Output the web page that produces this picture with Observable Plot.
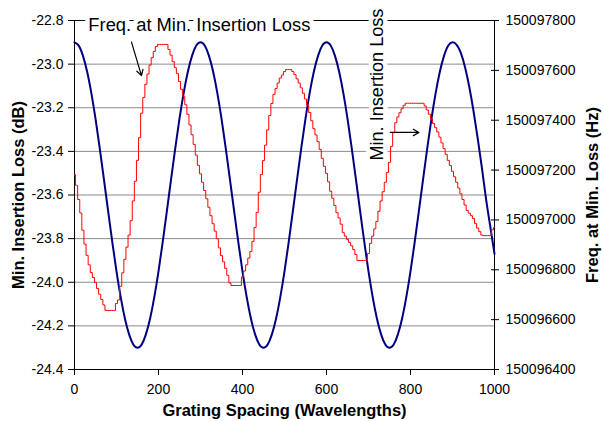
<!DOCTYPE html>
<html>
<head>
<meta charset="utf-8">
<script src="https://cdn.jsdelivr.net/npm/d3@7"></script>
<script src="https://cdn.jsdelivr.net/npm/@observablehq/plot@0.6"></script>
<style>
  html, body { margin: 0; padding: 0; background: white; }
  #wrap { position: relative; width: 603px; height: 421px; }
  #wrap > svg { position: absolute; left: 0; top: 0; }
</style>
</head>
<body>
<div id="wrap"></div>
<script>
// ---- data ----
const xTicks = [0, 200, 400, 600, 800, 1000];
const dbTicks = [-24.4, -24.2, -24.0, -23.8, -23.6, -23.4, -23.2, -23.0, -22.8];
const hzTicks = [150096400, 150096600, 150096800, 150097000, 150097200, 150097400, 150097600, 150097800];

// Min. insertion loss (dB), grating spacing 0..1000 every 10
const lossSpacing = d3.range(0, 1001, 10);
const lossDb = [
  -22.900, -22.915, -22.961, -23.034, -23.132, -23.250, -23.384, -23.527, -23.673, -23.816,
  -23.950, -24.068, -24.166, -24.239, -24.285, -24.300, -24.285, -24.239, -24.166, -24.068,
  -23.950, -23.816, -23.673, -23.527, -23.384, -23.250, -23.132, -23.034, -22.961, -22.915,
  -22.900, -22.915, -22.961, -23.034, -23.132, -23.250, -23.384, -23.527, -23.673, -23.816,
  -23.950, -24.068, -24.166, -24.239, -24.285, -24.300, -24.285, -24.239, -24.166, -24.068,
  -23.950, -23.816, -23.673, -23.527, -23.384, -23.250, -23.132, -23.034, -22.961, -22.915,
  -22.900, -22.915, -22.961, -23.034, -23.132, -23.250, -23.384, -23.527, -23.673, -23.816,
  -23.950, -24.068, -24.166, -24.239, -24.285, -24.300, -24.285, -24.239, -24.166, -24.068,
  -23.950, -23.816, -23.673, -23.527, -23.384, -23.250, -23.132, -23.034, -22.961, -22.915,
  -22.900, -22.912, -22.950, -23.015, -23.105, -23.215, -23.340, -23.475, -23.620, -23.745,
  -23.870
];

// Frequency at min. loss (Hz), grating spacing 0..1000 every 5
const freqSpacing = d3.range(0, 1001, 5);
const freqHz = [
  150097182, 150097139, 150097082, 150097028, 150096959, 150096903, 150096858, 150096820, 150096789, 150096769,
  150096749, 150096725, 150096702, 150096681, 150096659,
  150096637, 150096637, 150096637, 150096637, 150096637,
  150096665, 150096679, 150096734, 150096788, 150096842, 150096891, 150096939, 150096997, 150097076, 150097155,
  150097239, 150097330, 150097428, 150097491, 150097544, 150097585, 150097621, 150097651, 150097676, 150097696,
  150097704, 150097704, 150097704, 150097704, 150097704,
  150097684, 150097661, 150097635, 150097611, 150097588, 150097555, 150097524, 150097496, 150097462, 150097424,
  150097381, 150097342, 150097303, 150097260, 150097219, 150097185, 150097151, 150097118, 150097085, 150097051,
  150097017, 150096985, 150096955, 150096925, 150096888, 150096857, 150096832, 150096806, 150096778, 150096747,
  150096737, 150096737, 150096737, 150096737, 150096737,
  150096772, 150096795, 150096820, 150096847, 150096873, 150096914, 150096970, 150097030, 150097111, 150097182,
  150097238, 150097300, 150097361, 150097419, 150097467, 150097504, 150097527, 150097549, 150097569, 150097581,
  150097595,
  150097603, 150097603, 150097603,
  150097595, 150097583, 150097566, 150097549, 150097530, 150097508, 150097485, 150097461, 150097431, 150097398,
  150097366, 150097341, 150097314, 150097283, 150097247, 150097215, 150097187, 150097153, 150097115, 150097087,
  150097058, 150097029, 150097008, 150096983, 150096949, 150096935, 150096922, 150096910, 150096896, 150096881,
  150096861,
  150096837, 150096837, 150096837, 150096837, 150096837,
  150096865, 150096906, 150096935, 150096964, 150096994, 150097035, 150097076, 150097113, 150097151, 150097190,
  150097231, 150097295, 150097350, 150097390, 150097413, 150097430, 150097446, 150097460,
  150097468, 150097468, 150097468, 150097468, 150097468, 150097468, 150097468, 150097468, 150097468,
  150097457, 150097441, 150097424, 150097405, 150097387, 150097370, 150097353, 150097332, 150097309, 150097286,
  150097263, 150097239, 150097218, 150097195, 150097173, 150097151, 150097128, 150097105, 150097082, 150097060,
  150097038, 150097027, 150097017, 150097006, 150096986, 150096967, 150096953, 150096939,
  150096937, 150096937, 150096937, 150096937,
  150096960, 150096970
];

// annotations (data coordinates on the frequency scale)
const noteTexts = ["Freq. at Min. Insertion Loss", "Min. Insertion Loss"];
const noteX = [33, 721];
const noteY = [150097782, 150097543];
const arrowX1 = [135.7, 752];
const arrowY1 = [150097713, 150097351];
const arrowX2 = [159.5, 820];
const arrowY2 = [150097579, 150097351];

const titleX = "Grating Spacing (Wavelengths)";
const titleYLeft = "Min. Insertion Loss (dB)";
const titleYRight = "Freq. at Min. Loss (Hz)";

// ---- build ----
const loss = lossSpacing.map((x, i) => ({x, y: lossDb[i]}));
const freq = freqSpacing.map((x, i) => ({x, y: freqHz[i]}));

const W = 603, H = 421;
const margins = {marginLeft: 74, marginRight: 109, marginTop: 20, marginBottom: 52};
const font = "'Liberation Sans', Arial, Helvetica, sans-serif";

const left = Plot.plot({
  width: W, height: H, ...margins,
  style: {fontFamily: font, fontSize: "14px", color: "black", background: "white", overflow: "visible"},
  x: {domain: [0, 1000]},
  y: {domain: [-24.4, -22.8]},
  marks: [
    Plot.gridY(dbTicks.slice(1, -1), {stroke: "#8a8a8a", strokeOpacity: 1, strokeWidth: 1}),
    Plot.axisY(dbTicks, {anchor: "left", tickSize: 6, tickPadding: 5, tickFormat: d => d.toFixed(1), label: null, fill: "black", stroke: "black"}),
    Plot.axisX(xTicks, {anchor: "bottom", tickSize: 6, tickPadding: 9, tickFormat: d => String(d), label: null, fill: "black", stroke: "black"}),
    Plot.frame({stroke: "black", strokeWidth: 1}),
    Plot.line(loss, {x: "x", y: "y", stroke: "#000080", strokeWidth: 2, curve: "natural"}),
    Plot.text([titleYLeft], {frameAnchor: "left", textAnchor: "middle", lineAnchor: "middle", rotate: -90, dx: -56, fontWeight: "bold", fontSize: 16.5, fill: "black"}),
    Plot.text([titleX], {frameAnchor: "bottom", textAnchor: "middle", lineAnchor: "middle", dy: 41, fontWeight: "bold", fontSize: 16.5, fill: "black"})
  ]
});

const right = Plot.plot({
  width: W, height: H, ...margins,
  style: {fontFamily: font, fontSize: "14px", color: "black", background: "transparent", overflow: "visible"},
  x: {domain: [0, 1000], axis: null},
  y: {domain: [150096400, 150097800], axis: null},
  marks: [
    Plot.line(freq, {x: "x", y: "y", stroke: "#ff0000", strokeWidth: 1, curve: "step"}),
    Plot.axisY(hzTicks, {anchor: "right", tickSize: 8, dx: -4, tickPadding: 7, tickFormat: d => String(d), label: null, fill: "black", stroke: "black"}),
    Plot.text([0], {x: noteX[0], y: noteY[0], text: () => noteTexts[0], textAnchor: "start", lineAnchor: "middle", fontSize: 18, fill: "black", stroke: "white", strokeWidth: 9, paintOrder: "stroke", className: "note-h"}),
    Plot.text([1], {x: noteX[1], y: noteY[1], text: () => noteTexts[1], textAnchor: "middle", lineAnchor: "middle", rotate: -90, fontSize: 18, fill: "black", stroke: "white", strokeWidth: 9, paintOrder: "stroke", className: "note-v"}),
    Plot.arrow([0, 1], {x1: i => arrowX1[i], y1: i => arrowY1[i], x2: i => arrowX2[i], y2: i => arrowY2[i], stroke: "black", strokeWidth: 1.2, headLength: 8}),
    Plot.text([titleYRight], {frameAnchor: "right", textAnchor: "middle", lineAnchor: "middle", rotate: -90, dx: 98, fontWeight: "bold", fontSize: 16.5, fill: "black"})
  ]
});

const wrap = document.getElementById("wrap");
wrap.appendChild(left);
wrap.appendChild(right);

// match the reference's text run lengths
right.querySelectorAll(".note-h text").forEach(t => { t.setAttribute("textLength", 222); t.setAttribute("lengthAdjust", "spacingAndGlyphs"); });
right.querySelectorAll(".note-v text").forEach(t => { t.setAttribute("textLength", 152); t.setAttribute("lengthAdjust", "spacingAndGlyphs"); });
</script>
</body>
</html>
